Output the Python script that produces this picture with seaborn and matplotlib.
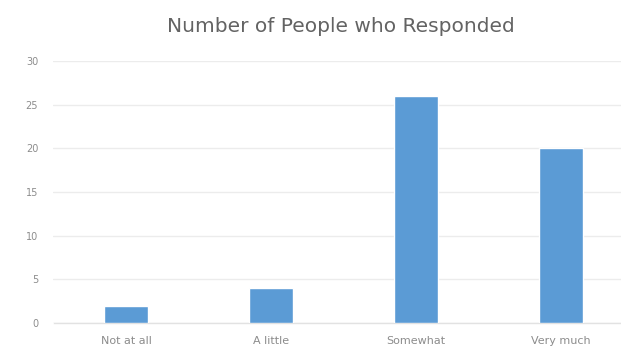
import matplotlib
matplotlib.use("Agg")
import matplotlib.pyplot as plt
import seaborn as sns
import pandas as pd

categories = ["Not at all", "A little", "Somewhat", "Very much"]
responses = [2, 4, 26, 20]
y_ticks = [0, 5, 10, 15, 20, 25, 30]

df = pd.DataFrame({"category": categories, "count": responses})

sns.set_theme(style="white")
plt.rcParams["font.family"] = ["DejaVu Sans"]

W, H = 621, 351
fig = plt.figure(figsize=(W / 100, H / 100), dpi=100)
fig.patch.set_facecolor("white")
ax = fig.add_axes([53.5 / W, 28 / H, 580 / W, 262 / H])

sns.barplot(data=df, x="category", y="count", color="#5B9BD5",
            saturation=1, width=0.30, ax=ax, zorder=3)

ax.set_xlim(-0.5, 3.5)
ax.set_ylim(0, 30)
ax.set_yticks(y_ticks)
ax.set_yticklabels([str(t) for t in y_ticks])
ax.yaxis.grid(True, color="#ECECEC", linewidth=1.0, zorder=0)
ax.set_axisbelow(True)
for side in ["top", "right", "left"]:
    ax.spines[side].set_visible(False)
ax.spines["bottom"].set_color("#E2E2E2")
ax.spines["bottom"].set_linewidth(1.0)
ax.tick_params(axis="y", length=0, labelsize=7, labelcolor="#8C8C8C", pad=11)
ax.tick_params(axis="x", length=0, labelsize=8, labelcolor="#8C8C8C", pad=9.5)
ax.set_xlabel("")
ax.set_ylabel("")

fig.text(341 / W, 1 - 26 / H, "Number of People who Responded",
         ha="center", va="center", fontsize=14.5, color="#636363")

fig.savefig("out.png", dpi=100, facecolor="white")
